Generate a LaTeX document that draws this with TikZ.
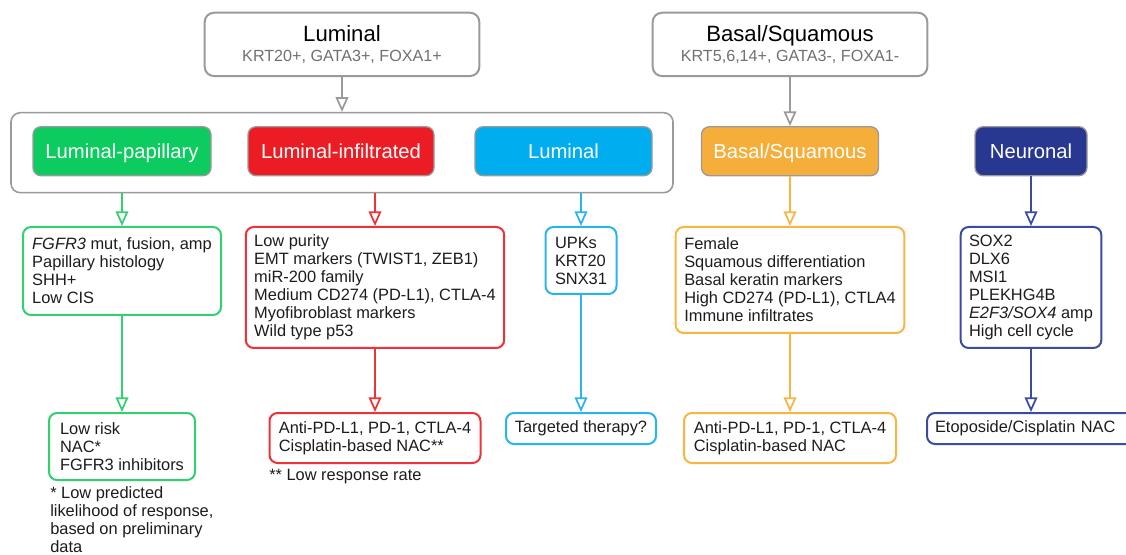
\documentclass[tikz,border=0pt]{standalone}
\usepackage{fontspec}
\setmainfont{Liberation Sans}
\usetikzlibrary{arrows.meta}

\definecolor{edgegray}{HTML}{9A9A9A}
\definecolor{subgray}{HTML}{707070}
\definecolor{txtblack}{HTML}{1C1C1C}
\definecolor{fillg}{HTML}{0CCB5F}
\definecolor{fillr}{HTML}{EC1C24}
\definecolor{fillb}{HTML}{00AEEF}
\definecolor{fillo}{HTML}{F6AE3B}
\definecolor{filln}{HTML}{283891}
\definecolor{lineg}{HTML}{33D070}
\definecolor{liner}{HTML}{EE3338}
\definecolor{lineb}{HTML}{29B5EC}
\definecolor{lineo}{HTML}{F9B443}
\definecolor{linen}{HTML}{3A4BA0}

\newcommand{\subtxt}[1]{{\color{subgray}\fontsize{12.1}{15.5}\selectfont #1}}

\tikzset{
	head/.style={draw=edgegray, line width=1.5pt, rounded corners=7pt, align=center,
		minimum width=206pt, minimum height=47.5pt, text=black,
		font=\fontsize{16.6}{15.5}\selectfont},
	group/.style={draw=edgegray, line width=1.2pt, rounded corners=7pt,
		minimum width=496.5pt, minimum height=60pt},
	label/.style={draw=edgegray, fill=#1, line width=1pt, rounded corners=6pt, text=white,
		minimum height=36.75pt, text height=11pt, text depth=0pt,
		font=\fontsize{15.2}{18}\selectfont},
	info/.style={draw=#1, line width=1.5pt, rounded corners=6pt, align=left, inner xsep=6pt,
		text=txtblack, font=\fontsize{12.3}{13.5}\selectfont},
	note/.style={text=txtblack, align=left, inner sep=0pt, font=\fontsize{12.3}{13.5}\selectfont},
	arr/.style={draw=#1, line width=1.3pt, -{Triangle[open,length=11pt,width=9.5pt]}}
}

\begin{document}
\begin{tikzpicture}[x=0.75pt,y=-0.75pt]
	\useasboundingbox (0,0) rectangle (1126,555);
	
	%Top classes
	\node[head] (lum) at (342,44.4) {Luminal\\\subtxt{KRT20+, GATA3+, FOXA1+}};
	\node[head] (bas) at (790,44.4) {Basal/Squamous\\\subtxt{KRT5,6,14+, GATA3-, FOXA1-}};
	
	%Luminal group
	\node[group] (grp) at (342,152.7) {};
	\node[label=fillg, minimum width=133.5pt] (lp) at (122,151.2) {Luminal-papillary};
	\node[label=fillr, minimum width=139.5pt] (li) at (341,151.2) {Luminal-infiltrated};
	\node[label=fillb, minimum width=132.75pt] (lu) at (563.5,151.2) {Luminal};
	
	%Other subtypes
	\node[label=fillo, minimum width=132.75pt] (bsq) at (790,151.2) {Basal/Squamous};
	\node[label=filln, minimum width=84pt] (neu) at (1031,151.2) {Neuronal};
	
	%Features
	\node[info=lineg, minimum width=148.5pt, minimum height=66pt] (gi1) at (122,271)
		{\textit{FGFR3} mut, fusion, amp\\Papillary histology\\SHH+\\Low CIS};
	\node[info=liner, minimum width=193.8pt, minimum height=90.75pt] (ri1) at (375,287.5)
		{Low purity\\EMT markers (TWIST1, ZEB1)\\miR-200 family\\Medium CD274 (PD-L1), CTLA-4\\Myofibroblast markers\\Wild type p53};
	\node[info=lineb, minimum width=53.25pt, minimum height=50.25pt] (bi1) at (581,260.5)
		{UPKs\\KRT20\\SNX31};
	\node[info=lineo, minimum width=171.5pt, minimum height=79.5pt] (oi1) at (790,280)
		{Female\\Squamous differentiation\\Basal keratin markers\\High CD274 (PD-L1), CTLA4\\Immune infiltrates};
	\node[info=linen, minimum width=105.5pt, minimum height=90.75pt] (ni1) at (1031,287.5)
		{SOX2\\DLX6\\MSI1\\PLEKHG4B\\\textit{E2F3/SOX4} amp\\High cell cycle};
	
	%Therapy
	\node[info=lineg, minimum width=109.5pt, minimum height=50.25pt] (gi2) at (122,446.5)
		{Low risk\\NAC*\\FGFR3 inhibitors};
	\node[info=liner, minimum width=158.25pt, minimum height=37.5pt] (ri2) at (375,438)
		{Anti-PD-L1, PD-1, CTLA-4\\Cisplatin-based NAC**};
	\node[info=lineb, minimum width=112.5pt, minimum height=23.25pt] (bi2) at (581,428.5)
		{Targeted therapy?};
	\node[info=lineo, minimum width=159pt, minimum height=37.5pt] (oi2) at (790,438)
		{Anti-PD-L1, PD-1, CTLA-4\\Cisplatin-based NAC};
	\node[info=linen, text width=144pt, minimum height=23.25pt] (ni2) at (1031,428.5)
		{Etoposide/Cisplatin NAC};
	
	%Footnotes
	\node[note, anchor=north west] (fn1) at (50,486)
		{* Low predicted\\likelihood of response,\\based on preliminary\\data};
	\node[note, anchor=base west] (fn2) at (269,480) {** Low response rate};
	
	%Arrows
	\draw[arr=edgegray] (lum.south) -- (grp.north);
	\draw[arr=edgegray] (bas.south) -- (bsq.north);
	\draw[arr=lineg] (gi1.north |- grp.south) -- (gi1.north);
	\draw[arr=liner] (ri1.north |- grp.south) -- (ri1.north);
	\draw[arr=lineb] (bi1.north |- grp.south) -- (bi1.north);
	\draw[arr=lineo] (bsq.south) -- (oi1.north);
	\draw[arr=linen] (neu.south) -- (ni1.north);
	\draw[arr=lineg] (gi1.south) -- (gi2.north);
	\draw[arr=liner] (ri1.south) -- (ri2.north);
	\draw[arr=lineb] (bi1.south) -- (bi2.north);
	\draw[arr=lineo] (oi1.south) -- (oi2.north);
	\draw[arr=linen] (ni1.south) -- (ni2.north);
\end{tikzpicture}
\end{document}
